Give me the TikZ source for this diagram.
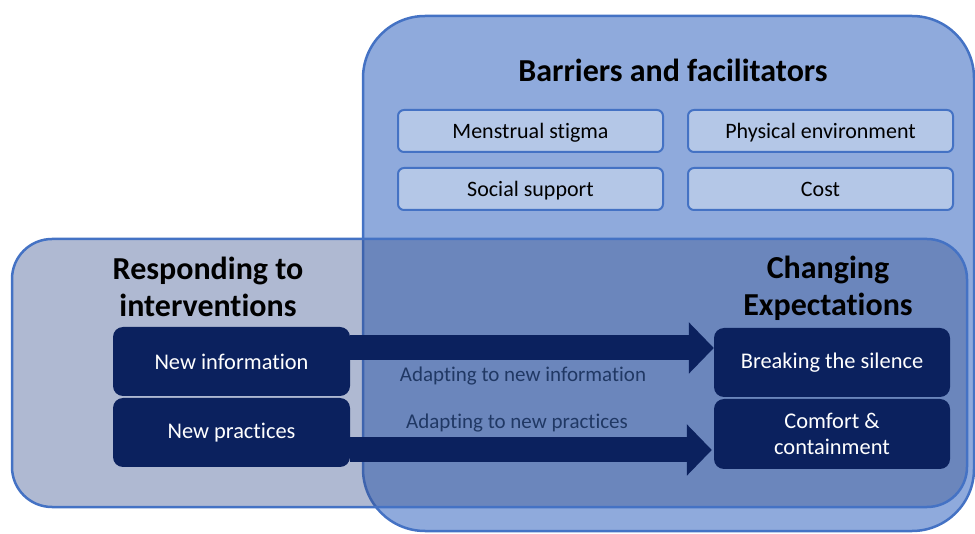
\documentclass[tikz,border=0pt]{standalone}
\usepackage{fontspec}
\setmainfont[Ligatures=NoCommon]{Carlito}
\usetikzlibrary{arrows.meta}
\definecolor{bfill}{HTML}{8FAADC}
\definecolor{bline}{HTML}{4472C4}
\definecolor{lfill}{HTML}{B4C7E7}
\definecolor{navy}{HTML}{0B215E}
\definecolor{lbl}{HTML}{203864}
\definecolor{greyov}{HTML}{37508E}
\tikzset{
  factor/.style={draw=bline, line width=2pt, fill=lfill, rounded corners=6pt, minimum width=265pt, minimum height=42pt, font=\fontsize{22}{26}\selectfont, inner sep=0pt, text height=17pt, text depth=1pt},
  darkbox/.style={fill=navy, rounded corners=10pt, minimum width=237pt, minimum height=69pt, text=white, font=\fontsize{22.4}{26}\selectfont, align=center, inner sep=0pt},
  title/.style={font=\fontsize{32}{37}\selectfont\bfseries, align=center},
  flow/.style={navy, line width=25pt, -{Triangle[length=25pt,width=50pt]}},
  flowlbl/.style={text=lbl, font=\fontsize{21}{24}\selectfont}
}
\begin{document}
\begin{tikzpicture}[x=1pt,y=-1pt]
\useasboundingbox (0,0) rectangle (975,534);
% big top box
\draw[bline, line width=2.5pt, fill=bfill, rounded corners=62pt] (363,16) rectangle (974,531);
% lower box
\draw[bline, line width=2.5pt, fill=greyov, fill opacity=0.4, rounded corners=40pt] (12,239) rectangle (967,507);
\node[title] (bt) at (673,70) {Barriers and facilitators};
\node[factor] (ms) at (530.5,131) {Menstrual stigma};
\node[factor] (pe) at (820.5,131) {Physical environment};
\node[factor] (ss) at (530.5,189) {Social support};
\node[factor] (co) at (820.5,189) {Cost};
\node[title] (rt) at (208,287) {Responding to\\interventions};
\node[title] (ct) at (828,288) {Changing\\Expectations};
\node[darkbox] (ni) at (231.5,361.5) {New information};
\node[darkbox] (np) at (231.5,432.5) {New practices};
\node[darkbox, minimum width=236pt] (bs) at (832,362.5) {Breaking the silence};
\node[darkbox, minimum width=236pt, minimum height=70pt] (cc) at (832,434) {Comfort \&\\containment};
\draw[flow] ([yshift=13.5pt]ni.east) -- ([yshift=13.5pt]ni.east -| bs.west);
\draw[flow] ([yshift=-17.5pt]np.east) -- ([yshift=-17.5pt,xshift=-2pt]np.east -| cc.west);
\node[flowlbl] (l1) at (523,376) {Adapting to new information};
\node[flowlbl] (l2) at (517,423) {Adapting to new practices};
\end{tikzpicture}
\end{document}
